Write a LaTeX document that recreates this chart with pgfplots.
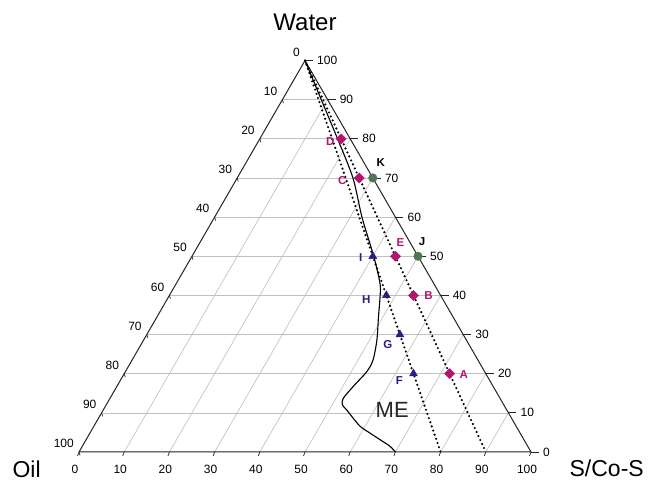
\documentclass[border=0pt]{standalone}
\usepackage{pgfplots}
\pgfplotsset{compat=1.18}
\usepackage{pgfplotstable}
\usepackage{fontspec}
\setmainfont{Liberation Sans}
\definecolor{mag}{RGB}{178,20,112}
\definecolor{navy}{RGB}{42,30,128}
\definecolor{grn}{RGB}{82,118,82}
\definecolor{gridc}{RGB}{192,192,192}
\definecolor{edgec}{RGB}{35,35,35}
\tikzset{tl/.style={font=\fontsize{12}{12}\selectfont, inner sep=0pt, text=black}}

% ternary data: S = S/Co-S (%), W = Water (%), Oil = 100 - S - W
\pgfplotstableread{
S W lab dx dy
72 20 A 14 -1
54 40 B 15 0
27 70 C -17 -3
18 80 D -11 -3
45 50 E 5 14
}\magdata
\pgfplotstableread{
S W lab dx dy
64 20 F -14 -7
56 30 G -12 -10
48 40 H -20 -4
40 50 I -12 -1
}\navydata
\pgfplotstableread{
S W lab dx dy
50 50 J 4 15
30 70 K 8 15
}\grndata
\pgfplotstableread{
S W
0 100
8.6 90
17.2 80
25.6 70
32.6 60
40.2 50
45.1 43
46.8 39.6
49.0 34.5
51.6 28.6
53.3 23.5
53.4 20.5
52.4 17.1
51.6 13.7
52.3 12.0
53.9 10.7
56.5 8.5
59.0 6.5
62.0 4.8
65.1 3.1
68.0 1.5
70.0 0
}\curvedata
\pgfplotstableread{
S W
0 0
100 0
0 100
0 0
}\edgedata
\pgfplotstableread{
S W
0 100
80 0
}\dotA
\pgfplotstableread{
S W
0 100
90 0
}\dotB

\begin{document}
\begin{tikzpicture}
\begin{axis}[
  x=4.52pt, y=4.52pt,
  xmin=-17.48, xmax=126.11, ymin=-6.42, ymax=100,
  hide axis, clip=false, anchor=south west, at={(0,0)},
]
% grid
\pgfplotsinvokeforeach{10,20,...,90}{
  \draw[gridc, line width=0.65pt] (axis cs:{#1/2},{0.8660254*#1}) -- (axis cs:{100-#1/2},{0.8660254*#1});
  \draw[gridc, line width=0.65pt] (axis cs:#1,0) -- (axis cs:{50+#1/2},{0.8660254*(100-#1)});
}
% ticks and tick labels
\pgfplotsinvokeforeach{0,10,...,100}{
  \draw[edgec, line width=0.7pt] (axis cs:#1,0) -- (axis cs:{#1-0.33},-0.88);
  \node[tl, anchor=center] at (axis cs:#1,0) [xshift=-4pt, yshift=-17pt] {#1};
  \draw[edgec, line width=0.7pt] (axis cs:{100-#1/2},{0.8660254*#1}) -- (axis cs:{101.77-#1/2},{0.8660254*#1});
  \node[tl, anchor=west] at (axis cs:{100-#1/2},{0.8660254*#1}) [xshift=12pt] {#1};
  \draw[edgec, line width=0.7pt] (axis cs:{#1/2},{0.8660254*#1}) -- (axis cs:{#1/2+0.22},{0.8660254*#1-0.77});
}
\pgfplotsinvokeforeach{0,10,...,100}{
  \node[tl, anchor=south east] at (axis cs:{(100-#1)/2},{0.8660254*(100-#1)}) [xshift=-5pt, yshift=4pt] {#1};
}
% triangle
\addplot[edgec, line width=1pt] table[x expr={\thisrow{S}+0.5*\thisrow{W}}, y expr={0.8660254*\thisrow{W}}] {\edgedata};
% dilution lines
\addplot[black, line width=2.4pt, line cap=round, dash pattern=on 0pt off 4.4pt] table[x expr={\thisrow{S}+0.5*\thisrow{W}}, y expr={0.8660254*\thisrow{W}}] {\dotA};
\addplot[black, line width=2.4pt, line cap=round, dash pattern=on 0pt off 4.4pt] table[x expr={\thisrow{S}+0.5*\thisrow{W}}, y expr={0.8660254*\thisrow{W}}] {\dotB};
% phase boundary
\addplot[black, line width=1.1pt, smooth, tension=0.5] table[x expr={\thisrow{S}+0.5*\thisrow{W}}, y expr={0.8660254*\thisrow{W}}] {\curvedata};
% points
\addplot[only marks, mark=square*, mark size=3.6pt, mark options={rotate=45, fill=mag, draw=mag},
  nodes near coords, point meta=explicit symbolic,
  visualization depends on={\thisrow{dx}\as\dx},
  visualization depends on={\thisrow{dy}\as\dy},
  every node near coord/.style={anchor=center, inner sep=0pt, xshift=\dx pt, yshift=\dy pt, font=\fontsize{11.5}{11.5}\selectfont\bfseries, text=mag}]
  table[x expr={\thisrow{S}+0.5*\thisrow{W}}, y expr={0.8660254*\thisrow{W}}, meta=lab] {\magdata};
\addplot[only marks, mark=triangle*, mark size=4.6pt, mark options={fill=navy, draw=navy},
  nodes near coords, point meta=explicit symbolic,
  visualization depends on={\thisrow{dx}\as\dx},
  visualization depends on={\thisrow{dy}\as\dy},
  every node near coord/.style={anchor=center, inner sep=0pt, xshift=\dx pt, yshift=\dy pt, font=\fontsize{11.5}{11.5}\selectfont\bfseries, text=navy}]
  table[x expr={\thisrow{S}+0.5*\thisrow{W}}, y expr={0.8660254*\thisrow{W}}, meta=lab] {\navydata};
\addplot[only marks, mark=*, mark size=4.3pt, mark options={fill=grn, draw=grn},
  nodes near coords, point meta=explicit symbolic,
  visualization depends on={\thisrow{dx}\as\dx},
  visualization depends on={\thisrow{dy}\as\dy},
  every node near coord/.style={anchor=center, inner sep=0pt, xshift=\dx pt, yshift=\dy pt, font=\fontsize{11.5}{11.5}\selectfont\bfseries, text=black}]
  table[x expr={\thisrow{S}+0.5*\thisrow{W}}, y expr={0.8660254*\thisrow{W}}, meta=lab] {\grndata};
% names
\node[inner sep=0pt, font=\fontsize{24}{24}\selectfont] at (axis cs:50,95.0) {Water};
\node[inner sep=0pt, font=\fontsize{23}{23}\selectfont] at (axis cs:-11.6,-3.8) {Oil};
\node[inner sep=0pt, font=\fontsize{23}{23}\selectfont] at (axis cs:116.75,-3.6) {S/Co-S};
\node[inner sep=0pt, font=\fontsize{22}{22}\selectfont, text=black!85] at (axis cs:69.3,9.3) {ME};
\end{axis}
\pgfresetboundingbox
\path (0,0) rectangle (649pt,481pt);
\end{tikzpicture}
\end{document}
